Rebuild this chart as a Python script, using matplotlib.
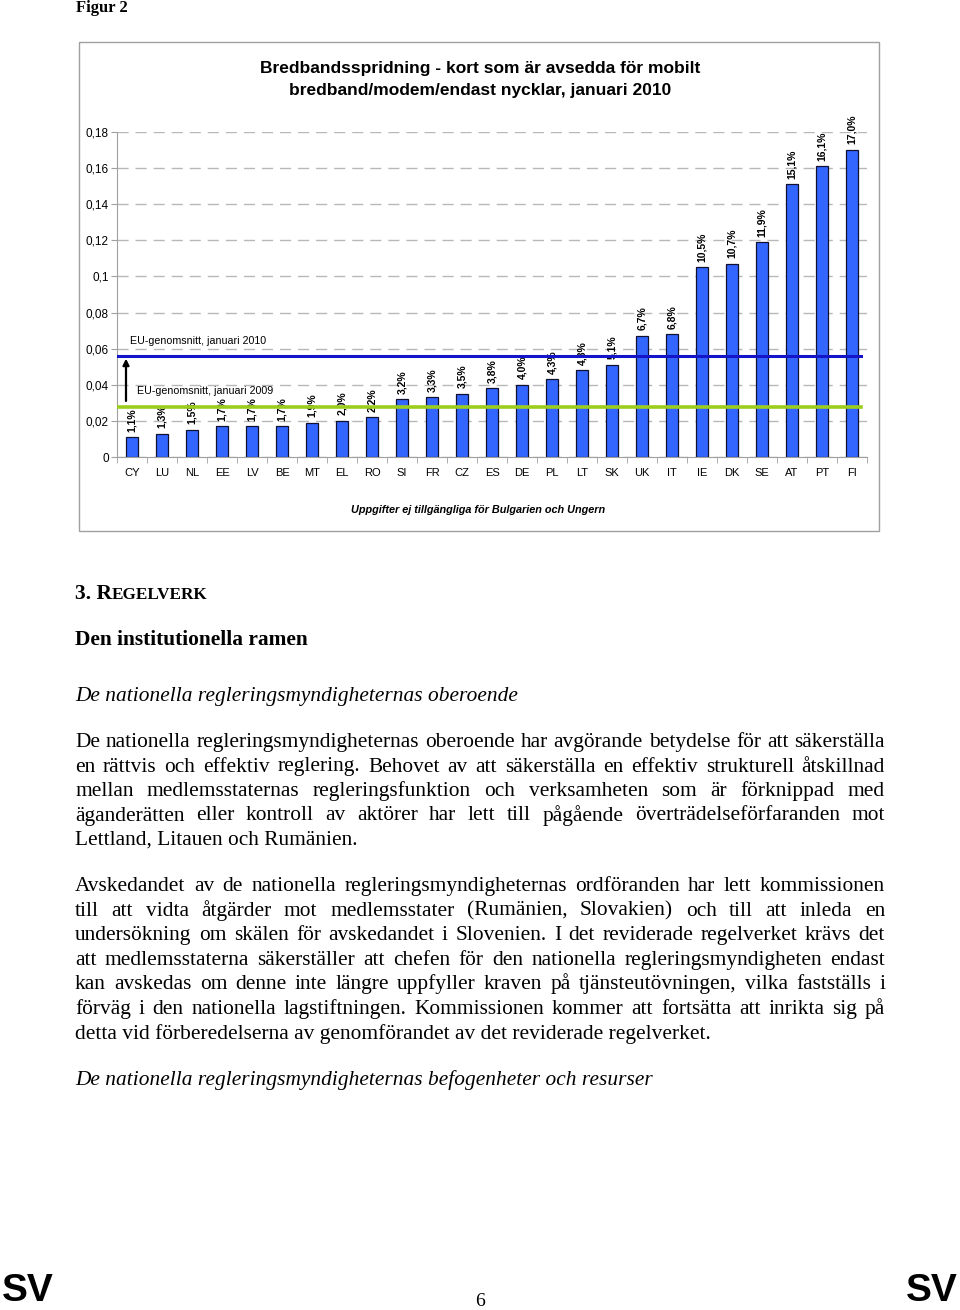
import matplotlib
matplotlib.use('Agg')
import matplotlib.pyplot as plt
from matplotlib.patches import Rectangle
from matplotlib.ticker import FuncFormatter, FixedLocator

# Data: bredbandsspridning, kort for mobilt bredband, januari 2010 (i procent)
countries = ['CY', 'LU', 'NL', 'EE', 'LV', 'BE', 'MT', 'EL', 'RO', 'SI', 'FR', 'CZ', 'ES',
             'DE', 'PL', 'LT', 'SK', 'UK', 'IT', 'IE', 'DK', 'SE', 'AT', 'PT', 'FI']
values = [1.1, 1.3, 1.5, 1.7, 1.7, 1.7, 1.9, 2.0, 2.2, 3.2, 3.3, 3.5, 3.8,
          4.0, 4.3, 4.8, 5.1, 6.7, 6.8, 10.5, 10.7, 11.9, 15.1, 16.1, 17.0]
eu_2010 = 5.6
eu_2009 = 2.78
yticks = [0, 0.02, 0.04, 0.06, 0.08, 0.1, 0.12, 0.14, 0.16, 0.18]

W, H = 960, 1310
fig = plt.figure(figsize=(W / 100, H / 100), dpi=100)
fig.patch.set_facecolor('white')

SANS = 'Liberation Sans'
SERIF = 'Liberation Serif'


def fx(x):
    return x / W


def fy(y):
    return 1 - y / H


# ---- chart box
fig.patches.append(Rectangle((fx(79), fy(531)), fx(800), (531 - 42) / H, transform=fig.transFigure,
                             fill=False, edgecolor='#a0a0a0', linewidth=1.0))

fig.text(fx(76), fy(8), 'Figur 2', family=SERIF, weight='bold', fontsize=12, va='center', ha='left')

fig.text(fx(480), fy(68), 'Bredbandsspridning - kort som är avsedda för mobilt',
         family=SANS, weight='bold', fontsize=12.5, ha='center', va='center')
fig.text(fx(480), fy(90), 'bredband/modem/endast nycklar, januari 2010',
         family=SANS, weight='bold', fontsize=12.5, ha='center', va='center')

ax = fig.add_axes([fx(117), fy(457), (867 - 117) / W, (457 - 132) / H])
x = list(range(len(countries)))
fr = [v / 100 for v in values]
ax.bar(x, fr, width=0.42, color='#3366ff', edgecolor='#101030', linewidth=0.9, zorder=2)

for xi, v in zip(x, values):
    ax.annotate(f'{v:.1f}'.replace('.', ',') + '%', (xi, v / 100), xytext=(0, 4),
                textcoords='offset points', rotation=90, ha='center', va='bottom',
                family=SANS, weight='bold', fontsize=7.5, zorder=3)

ax.plot([-0.5, 24.3], [eu_2010 / 100] * 2, color='#1414c8', linewidth=2.2, zorder=4)
ax.plot([-0.5, 24.3], [eu_2009 / 100] * 2, color='#9ccc1c', linewidth=2.6, zorder=4)
ax.annotate('', xy=(-0.2, eu_2010 / 100), xytext=(-0.2, 0.0295),
            arrowprops=dict(arrowstyle='-|>', color='black', lw=1.6, mutation_scale=9), zorder=5)
ax.text(-0.07, 0.0643, 'EU-genomsnitt, januari 2010', family=SANS, fontsize=7.7, va='center', ha='left')
ax.text(0.17, 0.0366, 'EU-genomsnitt, januari 2009', family=SANS, fontsize=7.7, va='center', ha='left')

ax.set_xlim(-0.5, 24.5)
ax.set_ylim(0, 0.18)
ax.set_yticks(yticks)
ax.yaxis.set_major_formatter(FuncFormatter(lambda v, p: ('%g' % round(v, 2)).replace('.', ',')))
ax.set_xticks(x)
ax.set_xticklabels(countries, family=SANS, fontsize=8)
ax.xaxis.set_minor_locator(FixedLocator([i + 0.5 for i in range(-1, 25)]))
ax.tick_params(axis='x', which='major', length=0, pad=8)
ax.tick_params(axis='x', which='minor', length=4, color='#a0a0a0')
ax.tick_params(axis='y', length=4, color='#a0a0a0', labelsize=8.5, pad=2)
for lab in ax.get_yticklabels():
    lab.set_family(SANS)
ax.grid(axis='y', color='#b8b8b8', linestyle=(0, (8, 5)), linewidth=1.0, zorder=0)
for s in ['top', 'right']:
    ax.spines[s].set_visible(False)
ax.spines['left'].set_color('#a0a0a0')
ax.spines['bottom'].set_color('#a0a0a0')

fig.text(fx(478), fy(510), 'Uppgifter ej tillgängliga för Bulgarien och Ungern',
         family=SANS, weight='bold', style='italic', fontsize=7.8, ha='center', va='center')

# ---- text below the chart
t1 = fig.text(fx(75), fy(599), '3. R', family=SERIF, weight='bold', fontsize=15.5, va='baseline')
fig.canvas.draw()
r = fig.canvas.get_renderer()
bb = t1.get_window_extent(r)
fig.text(bb.x1 / W, fy(599), 'EGELVERK', family=SERIF, weight='bold', fontsize=12.3, va='baseline')

fig.text(fx(75), fy(645), 'Den institutionella ramen', family=SERIF, weight='bold', fontsize=15.4, va='baseline')
fig.text(fx(75), fy(701), 'De nationella regleringsmyndigheternas oberoende', family=SERIF,
         style='italic', fontsize=15.4, va='baseline')

para1 = ['De nationella regleringsmyndigheternas oberoende har avgörande betydelse för att säkerställa',
         'en rättvis och effektiv reglering. Behovet av att säkerställa en effektiv strukturell åtskillnad',
         'mellan medlemsstaternas regleringsfunktion och verksamheten som är förknippad med',
         'äganderätten eller kontroll av aktörer har lett till pågående överträdelseförfaranden mot',
         'Lettland, Litauen och Rumänien.']
para2 = ['Avskedandet av de nationella regleringsmyndigheternas ordföranden har lett kommissionen',
         'till att vidta åtgärder mot medlemsstater (Rumänien, Slovakien) och till att inleda en',
         'undersökning om skälen för avskedandet i Slovenien. I det reviderade regelverket krävs det',
         'att medlemsstaterna säkerställer att chefen för den nationella regleringsmyndigheten endast',
         'kan avskedas om denne inte längre uppfyller kraven på tjänsteutövningen, vilka fastställs i',
         'förväg i den nationella lagstiftningen. Kommissionen kommer att fortsätta att inrikta sig på',
         'detta vid förberedelserna av genomförandet av det reviderade regelverket.']

LEFT, RIGHT = 75, 885


def natural(line, size):
    # width of the words plus a minimal space between them
    words = line.split()
    tot = 0
    for w in words:
        t = fig.text(0, 0, w, family=SERIF, fontsize=size)
        tot += t.get_window_extent(r).width
        t.remove()
    return tot + (len(words) - 1) * size * 0.2


BODY = 15.4
worst = max(natural(l, BODY) for l in para1[:-1] + para2[:-1])
if worst > RIGHT - LEFT:
    BODY = BODY * (RIGHT - LEFT) / worst


def justified(lines, y0, step):
    for k, line in enumerate(lines):
        yb = fy(y0 + k * step)
        if k == len(lines) - 1:
            fig.text(fx(LEFT), yb, line, family=SERIF, fontsize=BODY, va='baseline')
            continue
        words = line.split()
        txts = [fig.text(0, yb, w, family=SERIF, fontsize=BODY, va='baseline') for w in words]
        widths = [t.get_window_extent(r).width for t in txts]
        gap = (RIGHT - LEFT - sum(widths)) / (len(words) - 1)
        xpos = LEFT
        for t, wd in zip(txts, widths):
            t.set_x(fx(xpos))
            xpos += wd + gap


justified(para1, 747, 24.5)
justified(para2, 891, 24.6)

fig.text(fx(75), fy(1085), 'De nationella regleringsmyndigheternas befogenheter och resurser',
         family=SERIF, style='italic', fontsize=15.4, va='baseline')

fig.text(fx(2), fy(1309), 'SV', family=SANS, weight='bold', fontsize=28, va='bottom', ha='left')
fig.text(fx(958), fy(1309), 'SV', family=SANS, weight='bold', fontsize=28, va='bottom', ha='right')
fig.text(fx(480), fy(1306), '6', family=SERIF, fontsize=14, va='baseline', ha='center')

fig.savefig('out.png', dpi=100, facecolor='white')
